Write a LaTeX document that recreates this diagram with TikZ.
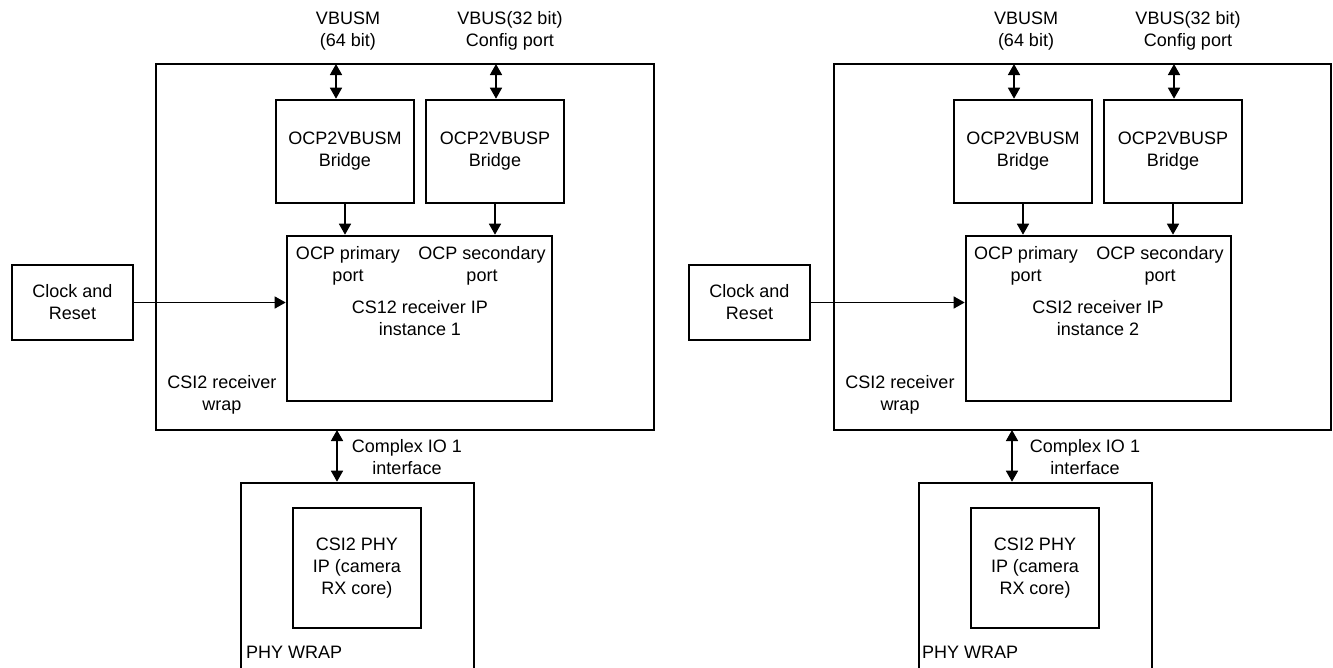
\documentclass[tikz,border=0pt]{standalone}
\usepackage{fontspec}
\setmainfont{Liberation Sans}
\usetikzlibrary{arrows.meta}

\begin{document}
\begin{tikzpicture}[x=1pt, y=-1pt,
    font=\fontsize{18}{22}\selectfont,
    box/.style={draw, line width=2.6pt, rectangle, inner sep=0pt, align=center},
    lbl/.style={draw=none, inner sep=0pt, align=center},
    link/.style={line width=1.6pt, -{Triangle[length=11pt,width=12pt]}},
    bilink/.style={line width=1.6pt, {Triangle[length=11pt,width=12pt]}-{Triangle[length=11pt,width=12pt]}}]
    \useasboundingbox (0,0) rectangle (1333,667);

    % --- instance 1 ---
    \node[box, minimum width=498pt, minimum height=366pt] (Lwrap) at (405,247) {};
    \node[lbl] (Lwraplab) at (222,395) {CSI2 receiver\\wrap};
    \node[box, minimum width=138pt, minimum height=103pt] (Lbm) at (345,151.5) {OCP2VBUSM\\Bridge};
    \node[box, minimum width=138pt, minimum height=103pt] (Lbp) at (495,151.5) {OCP2VBUSP\\Bridge};
    \node[box, minimum width=265pt, minimum height=165pt] (Lip) at (419.5,318.5) {};
    \node[lbl] (Lpri) at (348,266) {OCP primary\\port};
    \node[lbl] (Lsec) at (482,266) {OCP secondary\\port};
    \node[lbl] (Liplab) at (420,318) {CS12 receiver IP\\instance 1};
    \node[box, minimum width=121pt, minimum height=75pt] (Lclk) at (72.5,302.5) {Clock and\\Reset};
    \node[box, minimum width=233pt, minimum height=220pt] (Lphy) at (357.5,593) {};
    \node[lbl, anchor=west] (Lphylab) at (246,652) {PHY WRAP};
    \node[box, minimum width=128pt, minimum height=120pt] (Lcore) at (357,568) {CSI2 PHY\\IP (camera\\RX core)};
    \node[lbl] (Lvmlab) at (348,31) {VBUSM\\(64 bit)};
    \node[lbl] (Lvplab) at (510,31) {VBUS(32 bit)\\Config port};
    \node[lbl] (Lciolab) at (407,457) {Complex IO 1\\interface};
    \coordinate (Lvm) at (336,64);
    \coordinate (Lvp) at (496,64);
    \coordinate (Lcio) at (337,430);
    \draw[bilink] (Lvm) -- (Lvm |- Lbm.north);
    \draw[bilink] (Lvp) -- (Lvp |- Lbp.north);
    \draw[link] (Lbm.south) -- (Lbm.south |- Lip.north);
    \draw[link] (Lbp.south) -- (Lbp.south |- Lip.north);
    \draw[link, line width=1.3pt] (Lclk.east) -- (Lclk.east -| Lip.west);
    \draw[bilink] (Lcio) -- (Lcio |- Lphy.north);

    % --- instance 2 ---
    \node[box, minimum width=497pt, minimum height=366pt] (Rwrap) at (1082.5,247) {};
    \node[lbl] (Rwraplab) at (900,395) {CSI2 receiver\\wrap};
    \node[box, minimum width=138pt, minimum height=103pt] (Rbm) at (1023,151.5) {OCP2VBUSM\\Bridge};
    \node[box, minimum width=138pt, minimum height=103pt] (Rbp) at (1173,151.5) {OCP2VBUSP\\Bridge};
    \node[box, minimum width=265pt, minimum height=165pt] (Rip) at (1098.5,318.5) {};
    \node[lbl] (Rpri) at (1026,266) {OCP primary\\port};
    \node[lbl] (Rsec) at (1160,266) {OCP secondary\\port};
    \node[lbl] (Riplab) at (1098,318) {CSI2 receiver IP\\instance 2};
    \node[box, minimum width=121pt, minimum height=75pt] (Rclk) at (749.5,302.5) {Clock and\\Reset};
    \node[box, minimum width=233pt, minimum height=220pt] (Rphy) at (1035.5,593) {};
    \node[lbl, anchor=west] (Rphylab) at (922,652) {PHY WRAP};
    \node[box, minimum width=128pt, minimum height=120pt] (Rcore) at (1035,568) {CSI2 PHY\\IP (camera\\RX core)};
    \node[lbl] (Rvmlab) at (1026,31) {VBUSM\\(64 bit)};
    \node[lbl] (Rvplab) at (1188,31) {VBUS(32 bit)\\Config port};
    \node[lbl] (Rciolab) at (1085,457) {Complex IO 1\\interface};
    \coordinate (Rvm) at (1014,64);
    \coordinate (Rvp) at (1174,64);
    \coordinate (Rcio) at (1012,430);
    \draw[bilink] (Rvm) -- (Rvm |- Rbm.north);
    \draw[bilink] (Rvp) -- (Rvp |- Rbp.north);
    \draw[link] (Rbm.south) -- (Rbm.south |- Rip.north);
    \draw[link] (Rbp.south) -- (Rbp.south |- Rip.north);
    \draw[link, line width=1.3pt] (Rclk.east) -- (Rclk.east -| Rip.west);
    \draw[bilink] (Rcio) -- (Rcio |- Rphy.north);
\end{tikzpicture}
\end{document}
